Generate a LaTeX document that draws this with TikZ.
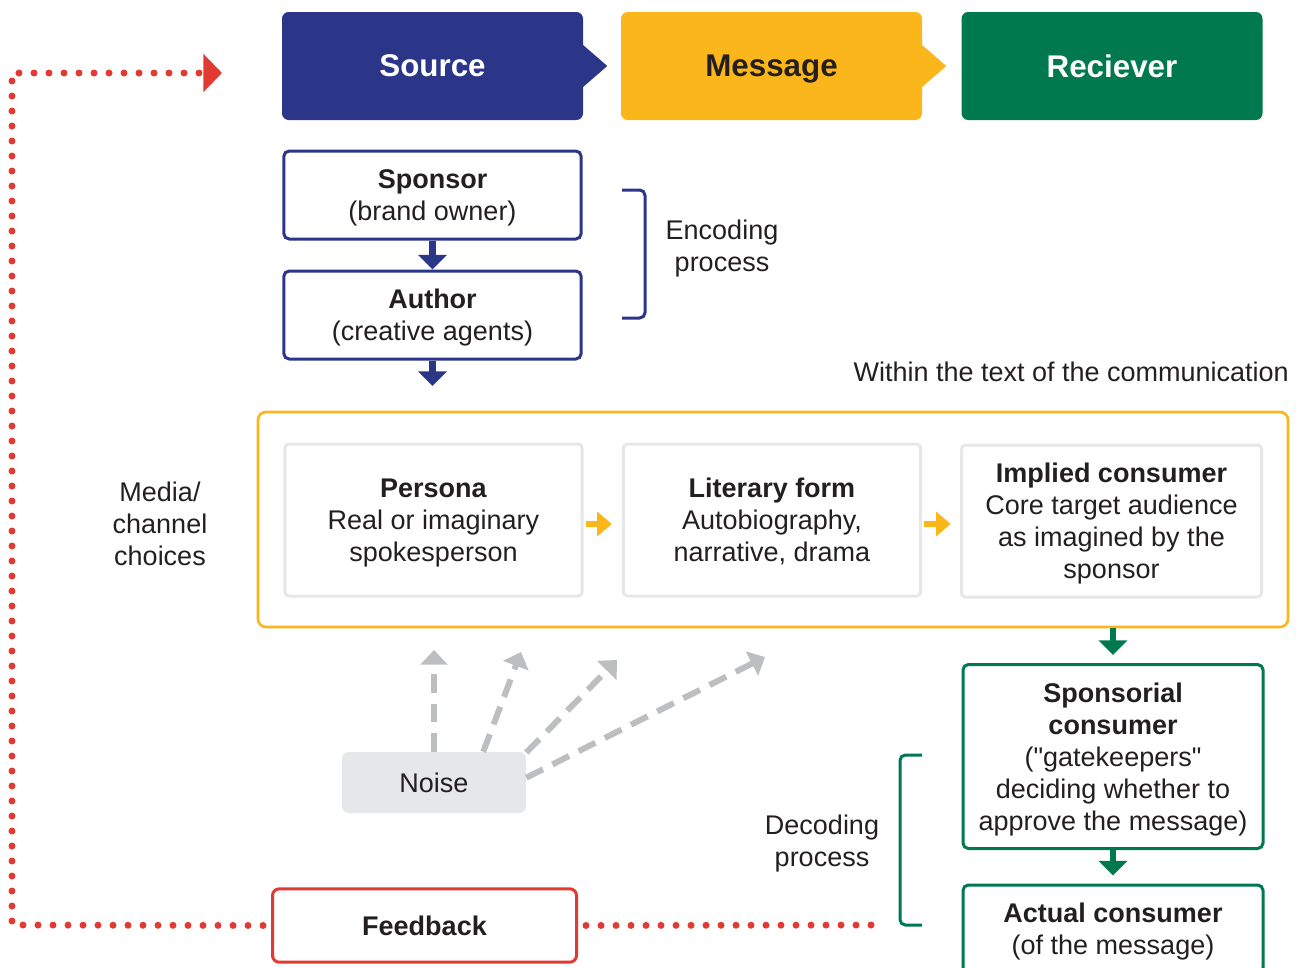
\documentclass[tikz,border=0pt]{standalone}
\usepackage{fontspec}
\setmainfont{Liberation Sans}
\newfontfamily\plainquotes{Liberation Sans}
\usetikzlibrary{arrows.meta}

\definecolor{srcblue}{RGB}{43,54,137}
\definecolor{msgorange}{RGB}{251,182,27}
\definecolor{rcvgreen}{RGB}{0,121,78}
\definecolor{fbred}{RGB}{224,58,51}
\definecolor{boxgray}{RGB}{230,231,232}
\definecolor{noisegray}{RGB}{188,190,192}
\definecolor{txt}{RGB}{35,31,32}

\begin{document}
\begin{tikzpicture}[x = 0.75pt, y = -0.75pt,
  every node/.style = {text = txt, align = center, inner sep = 0pt, font = \fontsize{20.25}{24}\selectfont},
  header/.style = {rectangle, rounded corners = 5pt, minimum width = 225.75pt, minimum height = 81pt, text depth = 0pt, font = \fontsize{23.5}{28}\selectfont\bfseries},
  stepbox/.style = {draw = #1, line width = 2.25pt, fill = white, rounded corners = 4pt, minimum width = 223pt, text depth = 0pt},
  textbox/.style = {draw = boxgray, line width = 2.25pt, fill = white, rounded corners = 3pt, minimum width = 223pt, minimum height = 114pt, text depth = 0pt},
  blockarrow/.style = {draw = #1, line width = 5pt, -{Triangle[width = 21pt, length = 11pt]}},
  noisearrow/.style = {draw = noisegray, line width = 4.5pt, dash pattern = on 14pt off 8pt, -{Triangle[width = 20pt, length = 11pt]}},
  fbline/.style = {draw = fbred, line width = 5.25pt, dash pattern = on 0pt off 11.25pt, line cap = round}]

  \useasboundingbox (0, 0) rectangle (1302, 967);

  % top row
  \node[header, fill = srcblue, text = white] (src) at (432.5, 66) {Source};
  \node[header, fill = msgorange] (msg) at (771.5, 66) {Message};
  \node[header, fill = rcvgreen, text = white] (rcv) at (1112, 66) {Reciever};
  \fill[srcblue] ([xshift = -1pt, yshift = 16.5pt]src.east) -- ([xshift = 18pt]src.east) -- ([xshift = -1pt, yshift = -16.5pt]src.east) -- cycle;
  \fill[msgorange] ([xshift = -1pt, yshift = 16.5pt]msg.east) -- ([xshift = 18pt]msg.east) -- ([xshift = -1pt, yshift = -16.5pt]msg.east) -- cycle;

  % encoding
  \node[stepbox = srcblue, minimum height = 66pt] (sponsor) at (432.5, 195) {\textbf{Sponsor}\\(brand owner)};
  \node[stepbox = srcblue, minimum height = 66pt] (author) at (432.5, 315) {\textbf{Author}\\(creative agents)};
  \coordinate (authout) at (432.5, 386);
  \draw[blockarrow = srcblue] (sponsor.south) -- (author.north);
  \draw[blockarrow = srcblue] (author.south) -- (authout);

  \draw[srcblue, line width = 2.25pt, rounded corners = 4pt] (622, 190) -- (645, 190) -- (645, 318) -- (622, 318);
  \node[text depth = 0pt] (encoding) at (722, 246) {Encoding\\process};

  % text of the communication
  \node[anchor = east] (within) at (1289, 372) {Within the text of the communication};
  \node[draw = msgorange, line width = 2pt, rounded corners = 6pt, minimum width = 772.5pt, minimum height = 161.25pt] (textframe) at (773, 519.5) {};
  \node (media) at (160, 524) {Media/\\channel\\choices};

  \node[textbox] (persona) at (433.5, 520) {\textbf{Persona}\\Real or imaginary\\spokesperson};
  \node[textbox] (literary) at (772, 520) {\textbf{Literary form}\\Autobiography,\\narrative, drama};
  \node[textbox, minimum width = 225pt] (implied) at (1111.5, 521) {\textbf{Implied consumer}\\Core target audience\\as imagined by the\\sponsor};
  \draw[draw = msgorange, line width = 5pt, -{Triangle[width = 18pt, length = 11pt]}, shorten < = 1.5pt, shorten > = 7.5pt] ([yshift = -3pt]persona.east) -- ([yshift = -3pt]literary.west);
  \draw[draw = msgorange, line width = 5pt, -{Triangle[width = 18pt, length = 11pt]}, shorten < = 1.5pt, shorten > = 7pt] ([yshift = -3pt]literary.east) -- ([yshift = -3pt]literary.east -| implied.west);

  % decoding
  \node[stepbox = rcvgreen, minimum width = 225pt, minimum height = 138pt] (sponsorial) at (1113, 756.5) {\textbf{Sponsorial}\\\textbf{consumer}\\({\plainquotes"}gatekeepers{\plainquotes"}\\deciding whether to\\approve the message)};
  \node[stepbox = rcvgreen, minimum width = 225pt, minimum height = 66pt] (actual) at (1113, 929) {\textbf{Actual consumer}\\(of the message)};
  \draw[blockarrow = rcvgreen, shorten > = 6pt] (textframe.south -| sponsorial.north) -- (sponsorial.north);
  \draw[blockarrow = rcvgreen, shorten > = 6pt] (sponsorial.south) -- (actual.north);

  \draw[rcvgreen, line width = 2.25pt, rounded corners = 4pt] (922, 755) -- (900, 755) -- (900, 925) -- (922, 925);
  \node[text depth = 0pt] (decoding) at (822, 841) {Decoding\\process};

  % noise
  \node[fill = boxgray, rounded corners = 5pt, minimum width = 138pt, minimum height = 45.75pt] (noise) at (434, 782.5) {Noise};
  \coordinate (noise1) at (434, 650);
  \coordinate (noise2) at (521, 652);
  \coordinate (noise3) at (617, 660);
  \coordinate (noise4) at (765, 657);
  \draw[noisearrow] (noise.north) -- (noise1);
  \draw[noisearrow] (noise.32) -- (noise2);
  \draw[noisearrow] (noise.18) -- (noise3);
  \draw[noisearrow] (noise.3) -- (noise4);

  % feedback loop
  \node[draw = fbred, line width = 2.25pt, fill = white, rounded corners = 5pt, minimum width = 228pt, minimum height = 55pt, font = \fontsize{20.25}{24}\selectfont\bfseries] (feedback) at (424.5, 925.5) {Feedback};
  \coordinate (fbend) at (872, 925);
  \coordinate (fbcorner) at (12, 925);
  \coordinate (fbtop) at (12, 73);
  \coordinate (fbtip) at (222, 73);
  \draw[fbline, shorten < = 6pt] (feedback.east) -- (fbend);
  \draw[fbline, shorten < = 6pt, -{Triangle[width = 28pt, length = 14pt]}] (feedback.west) -- (fbcorner) -- (fbtop) -- (fbtip);

\end{tikzpicture}
\end{document}
